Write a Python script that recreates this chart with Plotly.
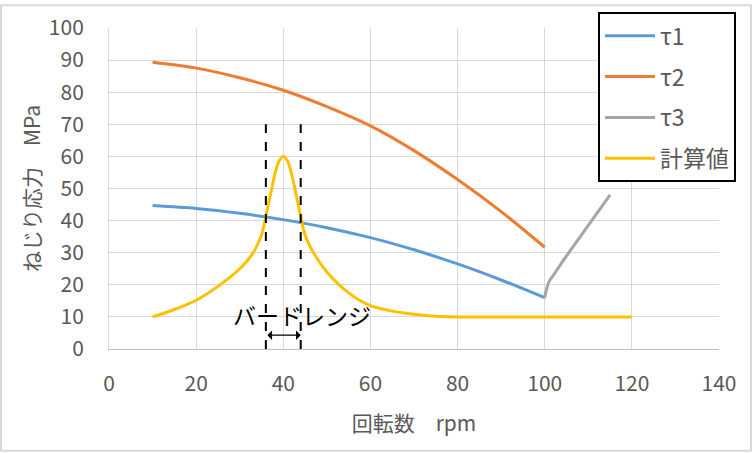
import plotly.graph_objects as go

# ---- data ----
rpm_t1 = [10, 20, 30, 40, 50, 60, 70, 80, 90, 100]
tau1 = [44.7, 43.8, 42.3, 40.3, 37.8, 34.7, 30.9, 26.5, 21.5, 16.0]

rpm_t2 = [10, 20, 30, 40, 50, 60, 70, 80, 90, 100]
tau2 = [89.3, 87.5, 84.5, 80.6, 75.5, 69.5, 61.8, 52.8, 42.8, 31.7]

rpm_t3 = [100, 100.5, 101, 102, 105, 110, 115]
tau3 = [16.0, 19.0, 21.0, 23.0, 29.0, 38.5, 48.0]

rpm_calc = [10, 15, 20, 25, 30, 33, 35, 36.5, 38, 39, 40, 41, 42, 43.5, 45, 47, 50, 55, 60, 65, 70, 75, 80, 90, 100, 110, 120]
calc = [10, 12.3, 15.2, 19.5, 25.0, 29.8, 35.5, 44.5, 54.0, 58.5, 60.0, 58.5, 54.0, 44.5, 35.5, 29.8, 24.0, 17.5, 13.5, 11.8, 10.8, 10.2, 10.0, 10.0, 10.0, 10.0, 10.0]

band_lo, band_hi, band_top, band_bottom = 36, 44, 70, 0
band_label = "バードレンジ"
band_label_pos = (44.3, 10.5)
arrow_y = 4.3

series_names = ["τ1", "τ2", "τ3", "計算値"]
colors = ["#5B9BD5", "#ED7D31", "#A5A5A5", "#FFC000"]

x_ticks = [0, 20, 40, 60, 80, 100, 120, 140]
y_ticks = [0, 10, 20, 30, 40, 50, 60, 70, 80, 90, 100]

FONT = "Noto Sans CJK JP"
GREY_TXT = "#595959"
FS = 21

fig = go.Figure()
for xs, ys, name, col in [
    (rpm_t1, tau1, series_names[0], colors[0]),
    (rpm_t2, tau2, series_names[1], colors[1]),
    (rpm_t3, tau3, series_names[2], colors[2]),
    (rpm_calc, calc, series_names[3], colors[3]),
]:
    fig.add_trace(go.Scatter(x=xs, y=ys, name=name, mode="lines",
                             line=dict(color=col, width=3, shape="spline", smoothing=0.8),
                             legendgroup=name))

# band dashed lines
for bx in (band_lo, band_hi):
    fig.add_trace(go.Scatter(x=[bx, bx], y=[band_bottom, band_top], mode="lines",
                             line=dict(color="black", width=2, dash="dash"),
                             showlegend=False, hoverinfo="skip"))

# double arrow
fig.add_annotation(x=band_hi, y=arrow_y, ax=band_lo, ay=arrow_y,
                   xref="x", yref="y", axref="x", ayref="y",
                   text="", showarrow=True, arrowhead=1, arrowside="end+start",
                   arrowwidth=1.2, arrowsize=1.3, arrowcolor="black")
fig.add_annotation(x=band_label_pos[0], y=band_label_pos[1], xref="x", yref="y",
                   text=band_label, showarrow=False,
                   font=dict(family=FONT, size=23, color="black"))

# outer border
fig.add_shape(type="rect", xref="paper", yref="paper",
              x0=(1 - 109) / 610, x1=(751 - 109) / 610,
              y0=(349 - 452) / 325, y1=(349 - 1) / 325,
              line=dict(color="#d9d9d9", width=2), fillcolor="rgba(0,0,0,0)", layer="below")

fig.update_layout(
    width=752, height=453,
    margin=dict(l=109, r=33, t=24, b=104),
    paper_bgcolor="white", plot_bgcolor="white",
    font=dict(family=FONT, size=FS, color=GREY_TXT),
    showlegend=True,
    legend=dict(x=(598 - 109) / 610, y=(349 - 8) / 325, xanchor="left", yanchor="top",
                bgcolor="white", bordercolor="black", borderwidth=2,
                font=dict(family=FONT, size=23, color=GREY_TXT),
                tracegroupgap=8, traceorder="grouped", itemwidth=50),
    xaxis=dict(range=[0, 140], tickvals=x_ticks, showgrid=True, gridcolor="#d9d9d9", gridwidth=1,
               zeroline=False, showline=True, linecolor="#bfbfbf", linewidth=1, mirror=False,
               ticks="outside", ticklen=16, tickcolor="rgba(0,0,0,0)",
               title=dict(text="回転数　rpm", standoff=20, font=dict(size=FS, color=GREY_TXT))),
    yaxis=dict(range=[0, 100], tickvals=y_ticks, showgrid=True, gridcolor="#d9d9d9", gridwidth=1,
               zeroline=False, showline=True, linecolor="#d9d9d9", linewidth=1,
               ticks="outside", ticklen=20, tickcolor="rgba(0,0,0,0)",
               title=dict(text="ねじり応力　MPa", standoff=2, font=dict(size=FS, color=GREY_TXT))),
)

fig.write_html("out.html")
